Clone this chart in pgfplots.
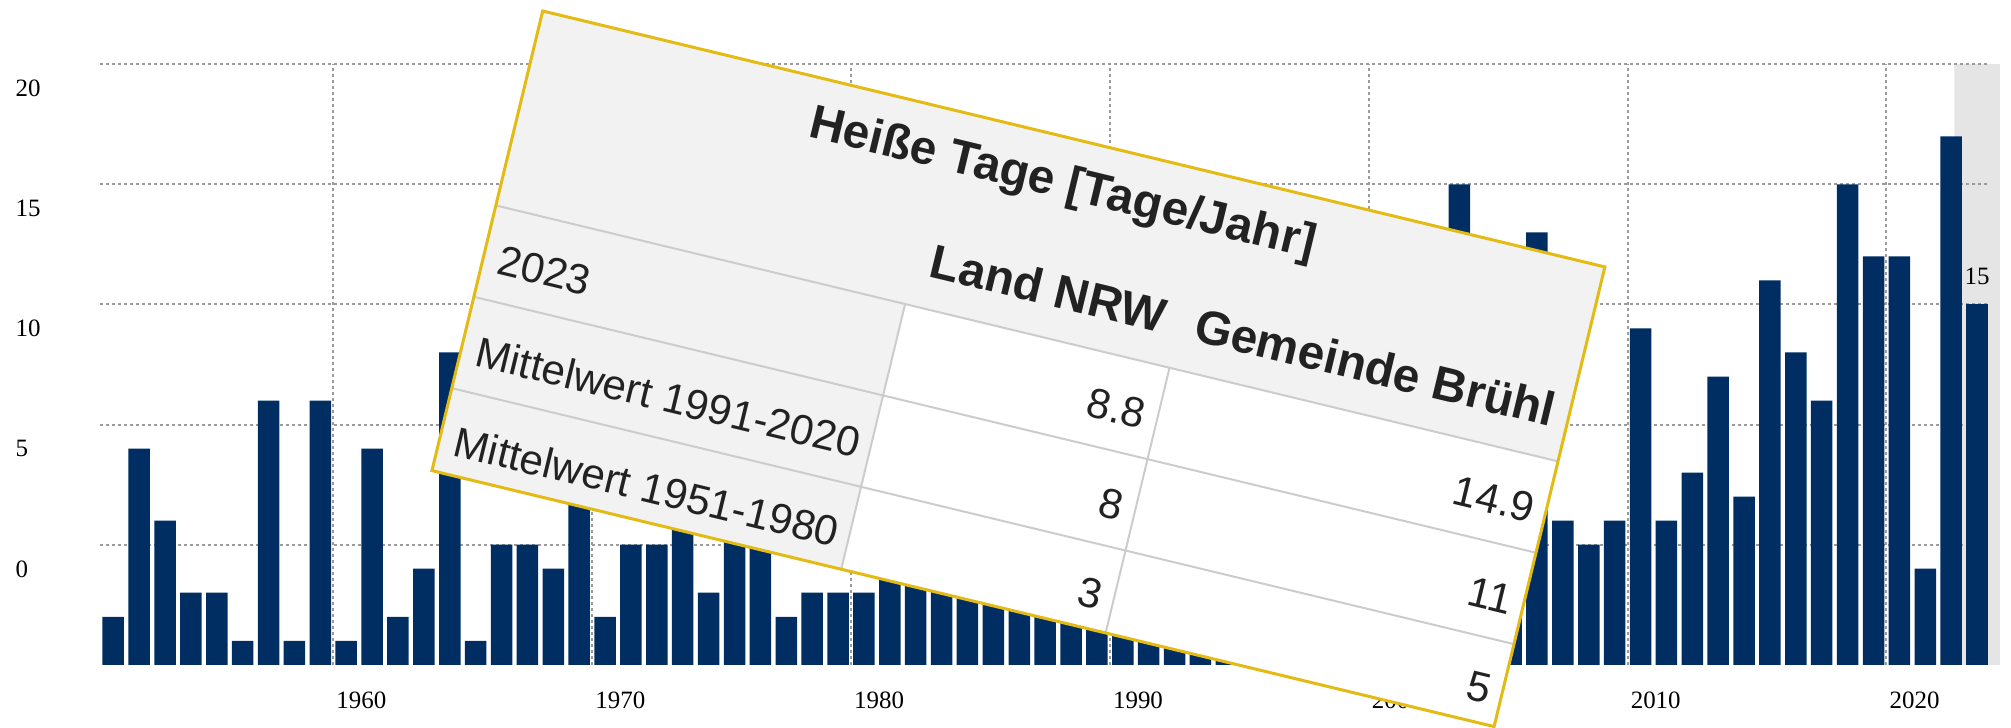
\documentclass[border=0pt]{standalone}
\usepackage{fontspec}
\setmainfont{Liberation Serif}
\newfontfamily\tabfont{Liberation Sans}
\usepackage{pgfplots}
\pgfplotsset{compat=1.18}
\definecolor{barblue}{RGB}{0,46,99}
\definecolor{gridc}{RGB}{155,155,155}
\definecolor{bandc}{RGB}{229,229,229}
\definecolor{tgrey}{RGB}{242,242,242}
\definecolor{tline}{RGB}{204,204,204}
\definecolor{tgold}{RGB}{228,186,20}
\definecolor{ttext}{RGB}{34,34,34}
\begin{document}
\begin{tikzpicture}
\begin{axis}[
  set layers,
  at={(10.03mm,6.22mm)}, anchor=south west,
  scale only axis, width=188.97mm, height=60.06mm,
  xmin=1950.5, xmax=2023.5, ymin=0, ymax=25,
  clip=false,
  axis line style={draw=none},
  major tick length=0pt,
  tick style={draw=none},
  xtick={1959.5,1969.5,1979.5,1989.5,1999.5,2009.5,2019.5},
  xticklabels={1960,1970,1980,1990,2000,2010,2020},
  ytick={5,10,15,20,25},
  yticklabels={0,5,10,15,20},
  xmajorgrids, ymajorgrids,
  major grid style={gridc, line width=0.2mm, dash pattern=on 0.3mm off 0.3mm},
  tick label style={font=\fontsize{7.1}{8.5}\selectfont, text=black, inner sep=0pt},
  xticklabel style={anchor=west, xshift=0.25mm, yshift=-3.52mm},
  yticklabel style={anchor=west, xshift=-8.53mm, yshift=-2.42mm},
  /pgf/number format/assume math mode=true,
  ybar, bar width=2.15mm,
]
\addplot[sharp plot, on layer=axis background, fill=bandc, draw=none, forget plot]
  coordinates {(2022.12,0) (2022.12,25) (2023.88,25) (2023.88,0) (2022.12,0)};
\addplot[bar shift=0pt, fill=barblue, draw=none] coordinates {
(1951,2) (1952,9) (1953,6) (1954,3) (1955,3) (1956,1) (1957,11) (1958,1) (1959,11) (1960,1)
(1961,9) (1962,2) (1963,4) (1964,13) (1965,1) (1966,5) (1967,5) (1968,4) (1969,7) (1970,2)
(1971,5) (1972,5) (1973,7) (1974,3) (1975,8) (1976,11) (1977,2) (1978,3) (1979,3) (1980,3)
(1981,6) (1982,12) (1983,14) (1984,5) (1985,4) (1986,8) (1987,4) (1988,6) (1989,10) (1990,12)
(1991,10) (1992,12) (1993,5) (1994,18) (1995,14) (1996,4) (1997,9) (1998,9) (1999,12) (2000,6)
(2001,10) (2002,8) (2003,20) (2004,9) (2005,8) (2006,18) (2007,6) (2008,5) (2009,6) (2010,14)
(2011,6) (2012,8) (2013,12) (2014,7) (2015,16) (2016,13) (2017,11) (2018,20) (2019,17) (2020,17)
(2021,4) (2022,22)
};
\addplot[bar shift=0pt, fill=barblue, draw=none, nodes near coords,
  nodes near coords style={font=\fontsize{7.1}{8.5}\selectfont, anchor=center, yshift=2.8mm, text=black, inner sep=0pt}]
  coordinates {(2023,15)};
\end{axis}
\begin{scope}[shift={(54.27mm,71.6mm)}, rotate=-13.55, x=0.1mm, y=-0.1mm, transform shape]
\fill[white] (0,0) rectangle (1092.6,472.8);
\fill[tgrey] (0,0) rectangle (1092.6,200);
\fill[tgrey] (0,200) rectangle (421,472.8);
\draw[tline, line width=0.2mm] (0,200) -- (1092.6,200) (0,294) -- (1092.6,294) (0,388) -- (1092.6,388)
  (421,200) -- (421,472.8) (693,200) -- (693,472.8);
\draw[tgold, line width=0.3mm] (0,0) rectangle (1092.6,472.8);
\begin{scope}[every node/.style={text=ttext, inner sep=0pt}]
\node[font=\tabfont\bfseries\fontsize{13.6}{16}\selectfont] at (546,48) {Heiße Tage [Tage/Jahr]};
\node[font=\tabfont\bfseries\fontsize{13.6}{16}\selectfont] at (557,151) {Land NRW};
\node[font=\tabfont\bfseries\fontsize{13.6}{16}\selectfont] at (893,151) {Gemeinde Brühl};
\node[anchor=west, font=\tabfont\fontsize{12}{14}\selectfont] at (15,252) {2023};
\node[anchor=west, font=\tabfont\fontsize{12}{14}\selectfont] at (15,346) {Mittelwert 1991-2020};
\node[anchor=west, font=\tabfont\fontsize{12}{14}\selectfont] at (15,438) {Mittelwert 1951-1980};
\node[anchor=east, font=\tabfont\fontsize{12}{14}\selectfont] at (681,252) {8.8};
\node[anchor=east, font=\tabfont\fontsize{12}{14}\selectfont] at (681,346) {8};
\node[anchor=east, font=\tabfont\fontsize{12}{14}\selectfont] at (681,438) {3};
\node[anchor=east, font=\tabfont\fontsize{12}{14}\selectfont] at (1081,252) {14.9};
\node[anchor=east, font=\tabfont\fontsize{12}{14}\selectfont] at (1081,346) {11};
\node[anchor=east, font=\tabfont\fontsize{12}{14}\selectfont] at (1081,438) {5};
\end{scope}
\end{scope}
\pgfresetboundingbox
\useasboundingbox (0,0) rectangle (201.1mm,72.7mm);
\end{tikzpicture}
\end{document}
